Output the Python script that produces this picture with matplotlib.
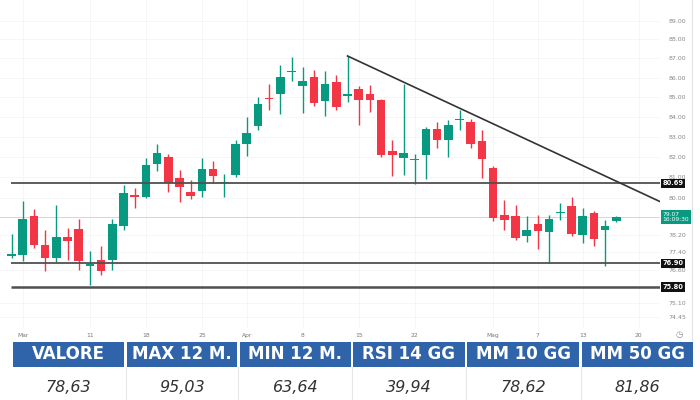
import matplotlib
matplotlib.use("Agg")
import matplotlib.pyplot as plt
from matplotlib.lines import Line2D
from matplotlib.patches import Rectangle
import numpy as np

# daily candles (open, high, low, close)
opens = [77.22, 77.29, 79.13, 77.74, 77.14, 78.14, 78.52, 76.79, 77.07, 77.03,
         78.63, 80.13, 80.03, 81.63, 81.97, 80.95, 80.29, 80.32, 81.39, 80.71,
         81.08, 82.61, 83.53, 84.95, 85.14, 86.31, 85.56, 86.02, 84.80, 85.78,
         85.07, 85.39, 85.17, 84.83, 82.27, 81.95, 81.82, 82.10, 83.40, 82.85,
         83.82, 83.72, 82.76, 81.45, 79.17, 79.10, 78.19, 78.74, 78.34, 79.24,
         79.61, 78.20, 79.26, 78.44, 78.86]
highs = [78.28, 79.86, 79.45, 78.47, 79.65, 78.53, 78.98, 77.46, 77.70, 78.98,
         80.60, 80.45, 81.94, 82.61, 82.14, 81.36, 80.84, 81.92, 81.81, 81.16,
         82.81, 83.98, 85.00, 85.68, 86.66, 87.09, 86.53, 86.41, 86.36, 86.12,
         87.13, 85.59, 85.63, 84.92, 82.85, 85.68, 82.14, 83.48, 83.73, 83.82,
         84.32, 83.90, 83.32, 81.52, 79.89, 79.65, 79.10, 79.18, 79.18, 79.76,
         80.02, 79.50, 79.37, 78.94, 79.13]
lows = [77.13, 76.99, 77.60, 76.53, 76.96, 77.03, 76.58, 75.88, 76.34, 76.58,
        78.47, 79.50, 79.99, 81.28, 80.29, 79.81, 79.92, 80.05, 80.69, 80.05,
        81.00, 82.04, 83.35, 84.32, 84.15, 85.81, 84.18, 84.53, 84.02, 84.36,
        84.73, 83.57, 84.23, 81.97, 81.05, 81.08, 80.65, 80.88, 82.44, 81.97,
        83.35, 82.41, 80.97, 78.86, 78.47, 77.99, 77.91, 77.58, 76.90, 78.94,
        78.15, 77.83, 77.71, 76.76, 78.83]
closes = [77.31, 78.98, 77.74, 77.14, 78.12, 77.94, 77.00, 76.88, 76.56, 78.72,
          80.22, 80.03, 81.60, 82.17, 80.69, 80.52, 80.07, 81.39, 81.03, 80.78,
          82.64, 83.18, 84.63, 84.88, 86.05, 86.36, 85.85, 84.69, 85.68, 84.49,
          85.15, 84.87, 84.83, 82.10, 82.07, 82.17, 81.89, 83.37, 82.83, 83.58,
          83.87, 82.64, 81.89, 79.02, 78.94, 78.10, 78.47, 78.39, 79.00, 79.29,
          78.27, 79.13, 78.02, 78.63, 79.07]

date_pos = [1, 7, 12, 17, 21, 26, 31, 36, 43, 47, 51, 56]
date_labels = ["Mar", "11", "18", "25", "Apr", "8", "15", "22", "Mag", "7", "13", "20"]

price_ticks = [89.00, 88.00, 87.00, 86.00, 85.00, 84.00, 83.00, 82.00, 81.00,
               80.00, 78.20, 77.40, 76.60, 75.10, 74.45]
levels = [80.69, 76.90, 75.80]
last_price = 79.07
last_time = "16:09:30"
trend_x = [30, 57.9]
trend_y = [87.13, 79.81]

headers = ["VALORE", "MAX 12 M.", "MIN 12 M.", "RSI 14 GG", "MM 10 GG", "MM 50 GG"]
values = ["78,63", "95,03", "63,64", "39,94", "78,62", "81,86"]

green = "#089981"
red = "#f23645"
W, H = 700, 400

fig = plt.figure(figsize=(7, 4), dpi=100)
ax = fig.add_axes([0, 73 / H, 660 / W, 327 / H])
ax.set_yscale("log")
ax.set_xlim(-1.03, 57.9)
ax.set_ylim(74.0, 90.12)

# grid (very faint)
for p in price_ticks:
    ax.axhline(p, color="#f6f6f6", lw=0.7, zorder=0)
for d in date_pos:
    ax.axvline(d, color="#f6f6f6", lw=0.7, zorder=0)

# current price line
ax.axhline(last_price, color="#d6d6d6", lw=0.7, zorder=1)

# candles
x = np.arange(len(opens))
o = np.array(opens)
c = np.array(closes)
up = c >= o
cols = np.where(up, green, red)
ax.vlines(x, lows, highs, colors=cols, lw=1.0, zorder=2)
bottoms = np.minimum(o, c)
heights = np.maximum(np.abs(c - o), 0.06)
ax.bar(x, heights, bottom=bottoms, width=0.76, color=cols, zorder=3)

# support / resistance lines and trendline
lw_levels = [1.3, 1.3, 1.8]
for lv, lw in zip(levels, lw_levels):
    ax.plot([-0.05, 57.9], [lv, lv], color="#505050", lw=lw, zorder=4, solid_capstyle="butt")
ax.plot(trend_x, trend_y, color="#333333", lw=1.2, zorder=4)

for s in ax.spines.values():
    s.set_visible(False)

ax.yaxis.tick_right()
ax.set_yticks(price_ticks)
ax.yaxis.set_minor_locator(matplotlib.ticker.NullLocator())
ax.set_yticklabels(["%.2f" % p for p in price_ticks])
ax.tick_params(axis="y", length=0, pad=6, labelsize=4.5, labelcolor="#888888")
ax.set_xticks(date_pos)
ax.set_xticklabels(date_labels)
ax.tick_params(axis="x", length=0, pad=4, labelsize=4.3, labelcolor="#777777")

# price tags on the right
tx = 1 + 2.5 / 660
for lv in levels:
    ax.text(tx, lv, "%.2f" % lv, transform=ax.get_yaxis_transform(), ha="left", va="center",
            fontsize=4.8, color="white", fontweight="bold", zorder=6,
            bbox=dict(boxstyle="square,pad=0.25", fc="#111111", ec="none"), clip_on=False)
ax.text(tx, last_price, "%.2f\n%s" % (last_price, last_time), transform=ax.get_yaxis_transform(),
        ha="left", va="center", fontsize=4.3, color="white", linespacing=1.1, zorder=6,
        bbox=dict(boxstyle="square,pad=0.3", fc=green, ec="none"), clip_on=False)

# right border and clock icon
fig.add_artist(Line2D([692 / W, 692 / W], [1 - 340 / H, 1], color="#e2e2e2", lw=0.8))
fig.text(679 / W, 1 - 335 / H, "\u25f7", fontsize=6, color="#888888", ha="center", va="center")

# table below the chart
col_x = [(13, 124), (127, 237), (240, 351), (353, 465), (467, 579), (582, 693)]
hy0, hy1 = 341.7, 366.7
for (x0, x1), hd, val in zip(col_x, headers, values):
    fig.add_artist(Rectangle((x0 / W, 1 - hy1 / H), (x1 - x0) / W, (hy1 - hy0) / H,
                             transform=fig.transFigure, fc="#2f64aa", ec="none"))
    xc = (x0 + x1) / 2 / W
    fig.text(xc, 1 - (hy0 + hy1) / 2 / H, hd, color="white", fontsize=12, fontweight="bold",
             ha="center", va="center")
    fig.text(xc, 1 - 387 / H, val, color="#333333", fontsize=11.5, style="italic",
             ha="center", va="center")
for xs in [125.5, 238.5, 352, 466, 580.5]:
    fig.add_artist(Line2D([xs / W, xs / W], [0, 1 - 367 / H], color="#e6e6e6", lw=0.8))

fig.savefig("out.png", dpi=100)
